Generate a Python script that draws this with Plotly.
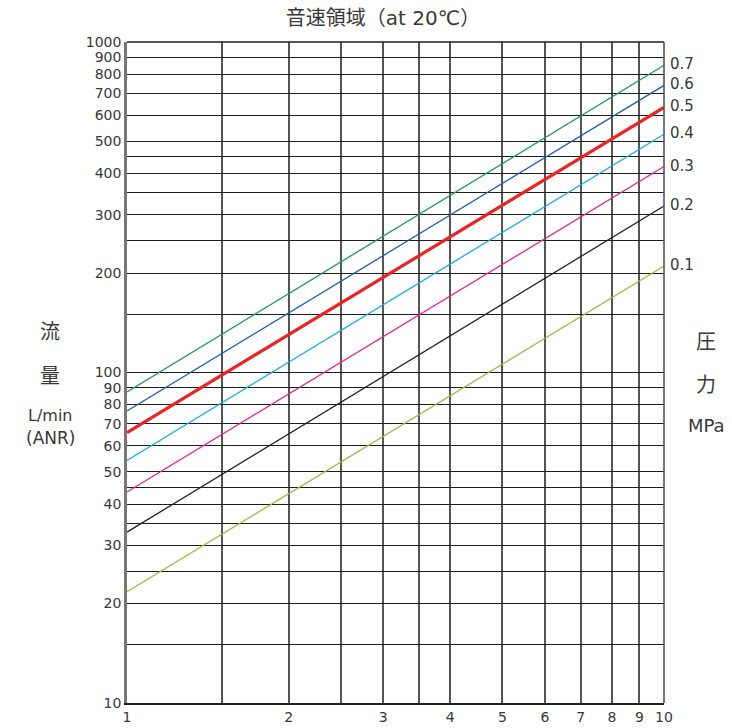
import numpy as np
import plotly.graph_objects as go

# Sonic-flow chart: flow rate (L/min ANR) vs. effective area, one line per supply pressure
pressures = ["0.1", "0.2", "0.3", "0.4", "0.5", "0.6", "0.7"]
flow_at_1 = [21.7, 32.9, 43.5, 54.2, 65.8, 76.5, 87.3]
flow_at_10 = [210, 319, 420, 526, 634, 739, 850]
x_ends = [1, 10]
line_colors = ["#8cc63f", "#222222", "#e8268a", "#18aee8", "#ee2222", "#1f5fae", "#1aa050"]
line_widths = [1.3, 1.3, 1.3, 1.3, 3.2, 1.3, 1.3]

x_grid = [1, 1.5, 2, 2.5, 3, 3.5, 4, 5, 6, 7, 8, 9, 10]
x_labels = ["1", "", "2", "", "3", "", "4", "5", "6", "7", "8", "9", "10"]
y_grid = [10, 15, 20, 25, 30, 35, 40, 45, 50, 60, 70, 80, 90, 100,
          150, 200, 250, 300, 350, 400, 450, 500, 600, 700, 800, 900, 1000]
y_labels = ["10", "", "20", "", "30", "", "40", "", "50", "60", "70", "80", "90", "100",
            "", "200", "", "300", "", "400", "", "500", "600", "700", "800", "900", "1000"]

FONT = "DejaVu Sans, Noto Sans CJK JP"
CJK = "Noto Sans CJK JP"
TXT = "#383838"

fig = go.Figure()
for p, y0, y1, c, w in zip(pressures, flow_at_1, flow_at_10, line_colors, line_widths):
    fig.add_trace(go.Scatter(x=x_ends, y=[y0, y1], mode="lines",
                             line=dict(color=c, width=w), name=p,
                             showlegend=False, hoverinfo="skip"))
    fig.add_annotation(x=np.log10(x_ends[1]), y=np.log10(y1), xref="x", yref="y",
                       text=p, showarrow=False, xanchor="left", yanchor="middle",
                       xshift=4, yshift=1, font=dict(family=FONT, size=15, color=TXT))

fig.update_xaxes(type="log", range=[0, 1], tickmode="array", tickvals=x_grid,
                 ticktext=x_labels, showgrid=True, gridcolor="#555555", gridwidth=1.6,
                 showline=True, linecolor="#222222", linewidth=1.6, ticks="",
                 automargin=False,
                 tickfont=dict(family=FONT, size=14, color=TXT), zeroline=False)
fig.update_yaxes(type="log", range=[1, 3], tickmode="array", tickvals=y_grid,
                 ticktext=y_labels, showgrid=True, gridcolor="#1e1e1e", gridwidth=1.3,
                 showline=True, linecolor="#777777", linewidth=2.5, ticks="",
                 automargin=False,
                 tickfont=dict(family=FONT, size=14, color=TXT), zeroline=False)

# Frame edges at the top (1000) and right (10)
fig.add_shape(type="line", xref="paper", yref="paper", x0=0, x1=1, y0=1, y1=1,
              line=dict(color="#1e1e1e", width=1.3))
fig.add_shape(type="line", xref="paper", yref="paper", x0=1, x1=1, y0=0, y1=1,
              line=dict(color="#555555", width=1.6))

side_texts = [
    ("流", 0.0, -77, 330, 20, CJK),
    ("量", 0.0, -77, 374, 20, CJK),
    ("L/min", 0.0, -77, 415, 16, FONT),
    ("(ANR)", 0.0, -77, 438, 17, FONT),
    ("圧", 1.0, 42, 340, 20, CJK),
    ("力", 1.0, 42, 383, 20, CJK),
    ("MPa", 1.0, 42, 425, 18, FONT),
]
for t, xp, dx, ypix, fs, fam in side_texts:
    fig.add_annotation(x=xp, y=1 - (ypix - 42) / 661, xref="paper", yref="paper",
                       text=t, showarrow=False, xanchor="center", yanchor="middle",
                       xshift=dx, font=dict(family=fam, size=fs, color=TXT))

fig.update_layout(
    width=732, height=728,
    margin=dict(l=127, r=68, t=42, b=25, autoexpand=False),
    paper_bgcolor="white", plot_bgcolor="white",
    title=dict(text="音速領域（at 20℃）", x=383 / 732, xanchor="center", y=1 - 18 / 728,
               yanchor="middle", font=dict(family=FONT, size=20, color=TXT)),
)

fig.write_html("out.html")
